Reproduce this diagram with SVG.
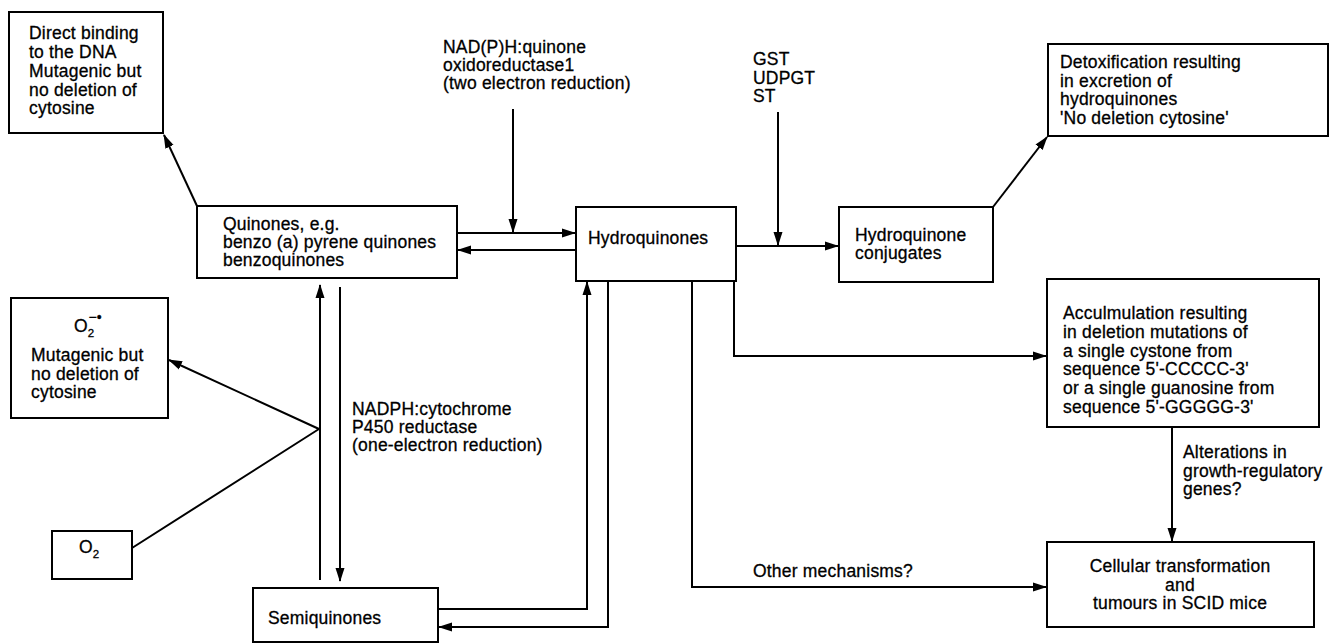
<svg xmlns="http://www.w3.org/2000/svg" width="1344" height="644" viewBox="0 0 1344 644">
<style>
.box{fill:#fff;stroke:#000;stroke-width:2}
.t{font-family:"Liberation Sans",Arial,sans-serif;font-size:17.5px;letter-spacing:0.2px;fill:#000;stroke:#000;stroke-width:0.3px}
.c{fill:none;stroke:#000;stroke-width:2}
</style>
<defs>
<marker id="ah" markerUnits="userSpaceOnUse" markerWidth="14" markerHeight="10" refX="13" refY="5" orient="auto">
<path d="M0,0.5 L14,5 L0,9.5 Z" fill="#000"/>
</marker>
</defs>
<rect width="1344" height="644" fill="#fff"/>
<g id="connectors">
<line class="c" x1="197" y1="206" x2="164" y2="135" marker-end="url(#ah)"/>
<line class="c" x1="457" y1="233" x2="575" y2="233" marker-end="url(#ah)"/>
<line class="c" x1="576" y1="250" x2="458" y2="250" marker-end="url(#ah)"/>
<line class="c" x1="513" y1="109" x2="513" y2="232" marker-end="url(#ah)"/>
<line class="c" x1="736" y1="246" x2="838" y2="246" marker-end="url(#ah)"/>
<line class="c" x1="778" y1="112" x2="778" y2="245" marker-end="url(#ah)"/>
<line class="c" x1="993" y1="207" x2="1047" y2="137" marker-end="url(#ah)"/>
<polyline class="c" points="734,281 734,356 1046,356" marker-end="url(#ah)"/>
<polyline class="c" points="692,281 692,587 1046,587" marker-end="url(#ah)"/>
<line class="c" x1="1172" y1="427" x2="1172" y2="541" marker-end="url(#ah)"/>
<polyline class="c" points="438,609 587,609 587,282" marker-end="url(#ah)"/>
<polyline class="c" points="608,281 608,627 439,627" marker-end="url(#ah)"/>
<line class="c" x1="320" y1="580" x2="320" y2="285" marker-end="url(#ah)"/>
<line class="c" x1="340" y1="287" x2="340" y2="581" marker-end="url(#ah)"/>
<polyline class="c" points="132,548 319,429 169,360" marker-end="url(#ah)"/>
<text class="t" x="443" y="53">NAD(P)H:quinone</text>
<text class="t" x="443" y="71">oxidoreductase1</text>
<text class="t" x="443" y="89">(two electron reduction)</text>
<text class="t" x="753" y="65">GST</text>
<text class="t" x="753" y="83.5">UDPGT</text>
<text class="t" x="753" y="102">ST</text>
<text class="t" x="352" y="415">NADPH:cytochrome</text>
<text class="t" x="352" y="433">P450 reductase</text>
<text class="t" x="352" y="451">(one-electron reduction)</text>
<text class="t" x="753" y="577">Other mechanisms?</text>
<text class="t" x="1183" y="458">Alterations in</text>
<text class="t" x="1183" y="477">growth-regulatory</text>
<text class="t" x="1183" y="495">genes?</text>
</g>
<g id="direct-binding">
<rect class="box" x="9" y="12" width="154" height="121"/>
<text class="t" x="29" y="39">Direct binding</text>
<text class="t" x="29" y="58">to the DNA</text>
<text class="t" x="29" y="77">Mutagenic but</text>
<text class="t" x="29" y="95.5">no deletion of</text>
<text class="t" x="29" y="114">cytosine</text>
</g>
<g id="quinones">
<rect class="box" x="197" y="206" width="260" height="72"/>
<text class="t" x="223" y="230">Quinones, e.g.</text>
<text class="t" x="223" y="248">benzo (a) pyrene quinones</text>
<text class="t" x="223" y="266">benzoquinones</text>
</g>
<g id="hydroquinones">
<rect class="box" x="576" y="207" width="160" height="74"/>
<text class="t" x="588" y="244">Hydroquinones</text>
</g>
<g id="conjugates">
<rect class="box" x="839" y="207" width="154" height="75"/>
<text class="t" x="855" y="241">Hydroquinone</text>
<text class="t" x="855" y="259">conjugates</text>
</g>
<g id="detox">
<rect class="box" x="1048" y="44" width="280" height="92"/>
<text class="t" x="1060" y="68">Detoxification resulting</text>
<text class="t" x="1060" y="86.5">in excretion of</text>
<text class="t" x="1060" y="105">hydroquinones</text>
<text class="t" x="1060" y="123.5">'No deletion cytosine'</text>
</g>
<g id="accumulation">
<rect class="box" x="1047" y="279" width="272" height="148"/>
<text class="t" x="1063" y="319">Acculmulation resulting</text>
<text class="t" x="1063" y="338">in deletion mutations of</text>
<text class="t" x="1063" y="356.5">a single cystone from</text>
<text class="t" x="1063" y="375">sequence 5'-CCCCC-3'</text>
<text class="t" x="1063" y="394">or a single guanosine from</text>
<text class="t" x="1063" y="413">sequence 5'-GGGGG-3'</text>
</g>
<g id="cellular">
<rect class="box" x="1047" y="542" width="267" height="85"/>
<text class="t" x="1180" y="572" text-anchor="middle">Cellular transformation</text>
<text class="t" x="1180" y="590.5" text-anchor="middle">and</text>
<text class="t" x="1180" y="609" text-anchor="middle">tumours in SCID mice</text>
</g>
<g id="superoxide">
<rect class="box" x="11" y="298" width="157" height="120"/>
<text class="t" x="74" y="332">O<tspan font-size="11.5" dy="5">2</tspan><tspan font-size="14" dx="-6" dy="-15">−•</tspan></text>
<text class="t" x="31" y="361">Mutagenic but</text>
<text class="t" x="31" y="379.5">no deletion of</text>
<text class="t" x="31" y="398">cytosine</text>
</g>
<g id="oxygen">
<rect class="box" x="52" y="531" width="80" height="48"/>
<text class="t" x="79" y="553">O<tspan font-size="11.5" dy="5">2</tspan></text>
</g>
<g id="semiquinones">
<rect class="box" x="253" y="588" width="185" height="54"/>
<text class="t" x="268" y="624">Semiquinones</text>
</g>
</svg>
